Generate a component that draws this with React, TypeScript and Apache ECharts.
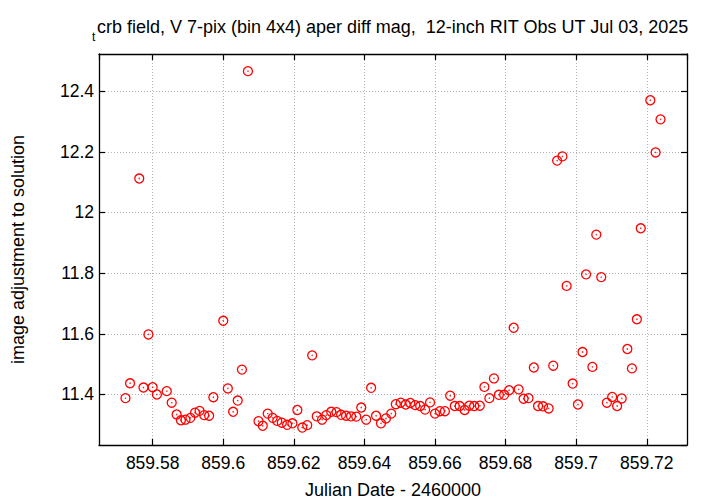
import React, { useEffect, useRef } from "react";
import * as echarts from "echarts";

const julianDate: number[] = [
  859.5723, 859.5736, 859.5762, 859.5774, 859.5788, 859.58, 859.5812, 859.584, 859.5854, 859.5868,
  859.588, 859.5893, 859.5907, 859.592, 859.5933, 859.5946, 859.596, 859.5972, 859.6, 859.6013,
  859.6028, 859.6041, 859.6053, 859.607, 859.61, 859.6112, 859.6126, 859.614, 859.6153, 859.6166,
  859.6181, 859.6196, 859.621, 859.6224, 859.6238, 859.6252, 859.6265, 859.628, 859.6292, 859.6306,
  859.6321, 859.6334, 859.6348, 859.6362, 859.6377, 859.6391, 859.6405, 859.6419, 859.6433, 859.6447,
  859.6461, 859.6476, 859.6489, 859.6503, 859.6517, 859.653, 859.6544, 859.6558, 859.6572, 859.6586,
  859.66, 859.6614, 859.6628, 859.6643, 859.6656, 859.667, 859.6684, 859.6697, 859.6711, 859.6727,
  859.674, 859.6754, 859.6767, 859.6781, 859.6796, 859.681, 859.6823, 859.6837, 859.6851, 859.6865,
  859.688, 859.6892, 859.6906, 859.6922, 859.6935, 859.6946, 859.6961, 859.6973, 859.699, 859.7005,
  859.7018, 859.7028, 859.7046, 859.7057, 859.7071, 859.7087, 859.7102, 859.7116, 859.7129, 859.7145,
  859.7158, 859.7172, 859.7183, 859.721, 859.7225, 859.7239,
];

const magnitude: number[] = [
  11.388, 11.437, 12.112, 11.423, 11.598, 11.424, 11.4, 11.411, 11.373, 11.334,
  11.315, 11.317, 11.323, 11.34, 11.346, 11.332, 11.33, 11.391, 11.643, 11.42,
  11.343, 11.38, 11.482, 12.466, 11.312, 11.297, 11.337, 11.323, 11.313, 11.307,
  11.3, 11.305, 11.349, 11.291, 11.299, 11.529, 11.328, 11.317, 11.332, 11.343,
  11.342, 11.333, 11.33, 11.328, 11.327, 11.357, 11.317, 11.422, 11.33, 11.305,
  11.321, 11.337, 11.368, 11.373, 11.367, 11.372, 11.365, 11.362, 11.35, 11.374,
  11.337, 11.345, 11.345, 11.396, 11.362, 11.362, 11.349, 11.363, 11.362, 11.363,
  11.425, 11.388, 11.453, 11.399, 11.399, 11.414, 11.62, 11.417, 11.386, 11.388,
  11.489, 11.362, 11.361, 11.354, 11.495, 12.171, 12.185, 11.758, 11.436, 11.367,
  11.54, 11.796, 11.491, 11.927, 11.787, 11.373, 11.392, 11.362, 11.387, 11.55,
  11.486, 11.648, 11.948, 12.37, 12.198, 12.307,
];

const titleSub = "t";
const titleMain = "crb field, V 7-pix (bin 4x4) aper diff mag,  12-inch RIT Obs UT Jul 03, 2025";
const xTitle = "Julian Date - 2460000";
const yTitle = "image adjustment to solution";

const xRange: number[] = [859.5648, 859.7314];
const yRange: number[] = [11.2335, 12.5225];

const FONT = "'Liberation Sans', Arial, Helvetica, sans-serif";

export default function App() {
  const ref = useRef<HTMLDivElement>(null);
  useEffect(() => {
    if (!ref.current) return;
    const chart = echarts.init(ref.current, null, { renderer: "svg" });
    const pts = julianDate.map((x, i) => [x, magnitude[i]]);
    const fmt = (v: number) => String(Math.round(v * 100) / 100);
    const gridLine = { show: true, lineStyle: { color: "#b4b4b4", type: [1, 2] as any, width: 1 } };
    const frameLine = { show: true, onZero: false, lineStyle: { color: "#000", width: 1.3 } };
    const tickIn = { show: true, inside: true, length: 6, lineStyle: { color: "#000", width: 1.2 } };
    chart.setOption({
      animation: false,
      backgroundColor: "#fff",
      textStyle: { fontFamily: FONT },
      grid: { left: 99, right: 33, top: 54, bottom: 58, containLabel: false },
      graphic: [
        {
          type: "text",
          left: 97,
          top: 18,
          style: { text: titleMain, fontSize: 18, fontFamily: FONT, fill: "#000" },
        },
        {
          type: "text",
          left: 92,
          top: 31,
          style: { text: titleSub, fontSize: 12, fontFamily: FONT, fill: "#000" },
        },
      ],
      xAxis: [
        {
          type: "value",
          min: xRange[0],
          max: xRange[1],
          splitNumber: 8,
          position: "bottom",
          axisLine: frameLine,
          axisTick: tickIn,
          splitLine: gridLine,
          axisLabel: {
            formatter: fmt,
            fontSize: 17.5,
            color: "#000",
            fontFamily: FONT,
            margin: 9,
            showMinLabel: false,
            showMaxLabel: false,
          },
          name: xTitle,
          nameLocation: "middle",
          nameGap: 36,
          nameTextStyle: { fontSize: 18, color: "#000", fontFamily: FONT },
        },
        {
          type: "value",
          min: xRange[0],
          max: xRange[1],
          splitNumber: 8,
          position: "top",
          axisLine: frameLine,
          axisTick: tickIn,
          splitLine: { show: false },
          axisLabel: { show: false },
        },
      ],
      yAxis: [
        {
          type: "value",
          min: yRange[0],
          max: yRange[1],
          splitNumber: 6,
          position: "left",
          axisLine: frameLine,
          axisTick: tickIn,
          splitLine: gridLine,
          axisLabel: {
            formatter: fmt,
            fontSize: 17.5,
            color: "#000",
            fontFamily: FONT,
            margin: 5,
            showMinLabel: false,
            showMaxLabel: false,
          },
          name: yTitle,
          nameLocation: "middle",
          nameGap: 72,
          nameRotate: 90,
          nameTextStyle: { fontSize: 18, color: "#000", fontFamily: FONT },
        },
        {
          type: "value",
          min: yRange[0],
          max: yRange[1],
          splitNumber: 6,
          position: "right",
          axisLine: frameLine,
          axisTick: tickIn,
          splitLine: { show: false },
          axisLabel: { show: false },
        },
      ],
      series: [
        {
          type: "scatter",
          data: pts,
          symbol: "circle",
          symbolSize: 9,
          itemStyle: { color: "rgba(0,0,0,0)", borderColor: "#ff0000", borderWidth: 1.3, opacity: 1 },
          emphasis: { disabled: true },
          z: 3,
        },
        {
          type: "scatter",
          data: pts,
          symbol: "circle",
          symbolSize: 1.6,
          itemStyle: { color: "#ff0000" },
          emphasis: { disabled: true },
          z: 4,
        },
      ],
    });
    return () => chart.dispose();
  }, []);
  return <div ref={ref} style={{ width: 720, height: 504, position: "absolute", left: 0, top: 0 }} />;
}
